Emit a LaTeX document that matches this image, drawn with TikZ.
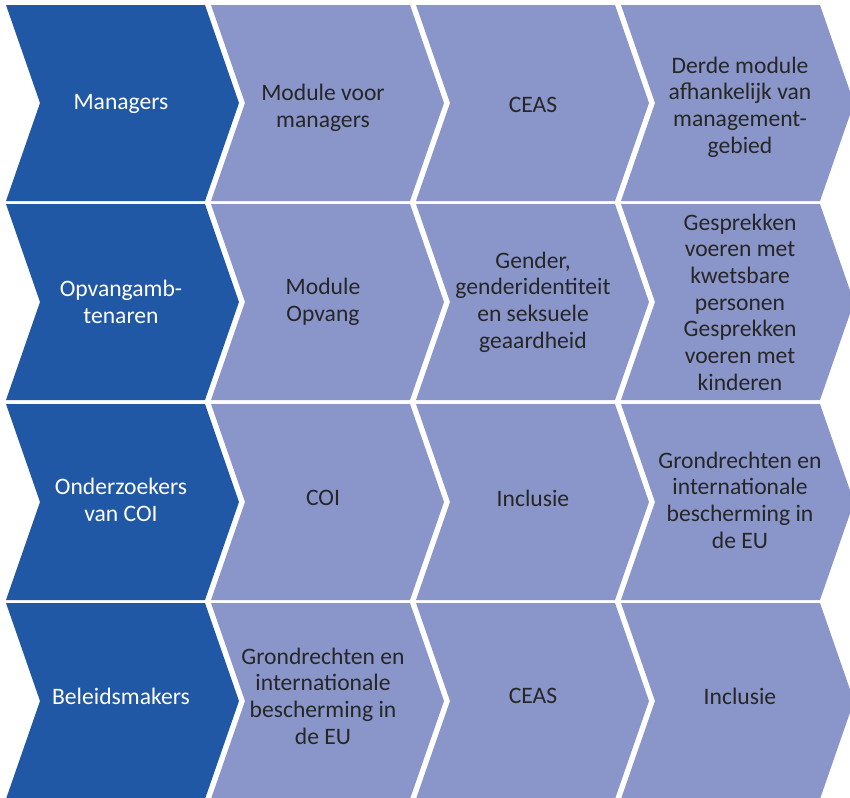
\documentclass[tikz,border=0pt]{standalone}
\usepackage{fontspec}
\setmainfont{Carlito}
\definecolor{darkchev}{RGB}{32,88,166}
\definecolor{lightchev}{RGB}{138,150,202}
\definecolor{txtdark}{RGB}{38,38,38}
\tikzset{
  chevfill/.style={fill=#1, draw=none},
  lbl/.style={align=center, font=\fontsize{17.7}{20}\selectfont, inner sep=0pt},
  firstlbl/.style={lbl, text=white},
  otherlbl/.style={lbl, text=txtdark}
}
\newcommand{\chevshape}[3]{% x0, top, colour
  \fill[#3] (#1,#2) -- ++(199,0) -- ++(34,98) -- ++(-34,98) -- ++(-199,0) -- ++(34,-98) -- cycle;
}
\begin{document}
\begin{tikzpicture}[x=0.75pt,y=-0.75pt]
\useasboundingbox (0,0) rectangle (850,797);
\begin{scope}
\clip (0,0) rectangle (850,797);
\foreach \r/\t in {1/5,2/204,3/404,4/603}{
  \chevshape{6}{\t}{darkchev}
  \chevshape{211}{\t}{lightchev}
  \chevshape{416}{\t}{lightchev}
  \chevshape{621}{\t}{lightchev}
}
\end{scope}
% row 1
\node[firstlbl] (r1c1) at (121,104) {Managers};
\node[otherlbl] (r1c2) at (323,108) {Module voor\\managers};
\node[otherlbl] (r1c3) at (533,105) {CEAS};
\node[otherlbl] (r1c4) at (740,107) {Derde module\\afhankelijk van\\management-\\gebied};
% row 2
\node[firstlbl] (r2c1) at (121,302) {Opvangamb-\\tenaren};
\node[otherlbl] (r2c2) at (323,302) {Module\\Opvang};
\node[otherlbl] (r2c3) at (533,302) {Gender,\\genderidentiteit\\en seksuele\\geaardheid};
\node[otherlbl] (r2c4) at (740,302) {Gesprekken\\voeren met\\kwetsbare\\personen\\Gesprekken\\voeren met\\kinderen};
% row 3
\node[firstlbl] (r3c1) at (121,500) {Onderzoekers\\van COI};
\node[otherlbl] (r3c2) at (323,498) {COI};
\node[otherlbl] (r3c3) at (533,498) {Inclusie};
\node[otherlbl] (r3c4) at (740,500) {Grondrechten en\\internationale\\bescherming in\\de EU};
% row 4
\node[firstlbl] (r4c1) at (121,696) {Beleidsmakers};
\node[otherlbl] (r4c2) at (323,696) {Grondrechten en\\internationale\\bescherming in\\de EU};
\node[otherlbl] (r4c3) at (533,696) {CEAS};
\node[otherlbl] (r4c4) at (740,696) {Inclusie};
\end{tikzpicture}
\end{document}
